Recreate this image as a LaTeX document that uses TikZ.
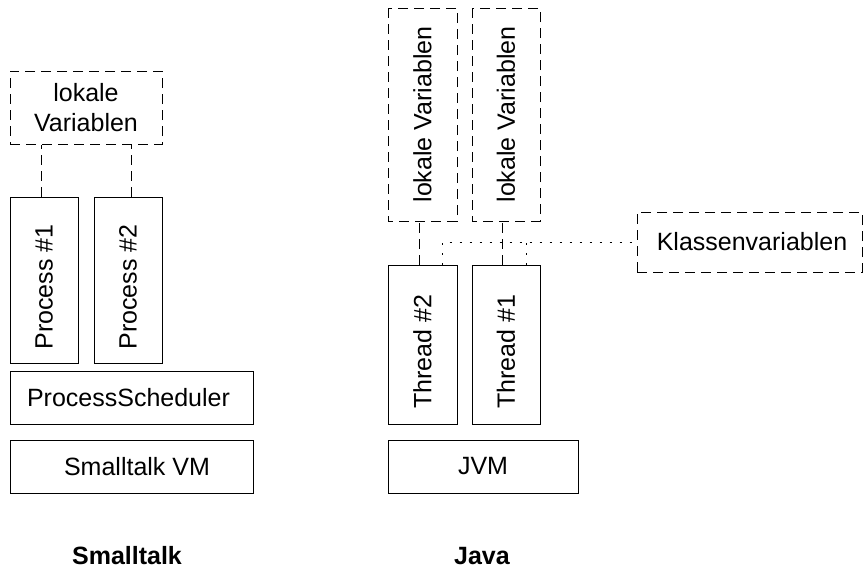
\documentclass[tikz,border=0pt]{standalone}
\usepackage{fontspec}
\setmainfont{Liberation Sans}
\begin{document}
\begin{tikzpicture}[x=1pt,y=-1pt,
  font=\fontsize{25}{30}\selectfont,
  solidbox/.style={draw=black, line width=1pt, inner sep=0pt, rectangle},
  dashbox/.style={draw=black, line width=1pt, inner sep=0pt, rectangle, dash pattern=on 10pt off 6pt},
  dashline/.style={draw=black, line width=1pt, dash pattern=on 10pt off 6pt},
  dotline/.style={draw=black, line width=1pt, dash pattern=on 2pt off 8pt},
  caption/.style={font=\fontsize{25}{30}\selectfont\bfseries}]
\useasboundingbox (0,0) rectangle (863,573);

% Smalltalk
\node[dashbox, minimum width=152, minimum height=73, align=center] (lv) at (86,107.5) {lokale\\Variablen};
\node[solidbox, rotate=90, minimum width=166, minimum height=68.5] (p1) at (44.25,280) {};
\node[rotate=90] at (44.25,287) {Process \#1};
\node[solidbox, rotate=90, minimum width=166, minimum height=68] (p2) at (128,280) {};
\node[rotate=90] at (128,287) {Process \#2};
\node[solidbox, minimum width=243, minimum height=53] (ps) at (131.5,397.5) {};
\node at (128.5,397.5) {ProcessScheduler};
\node[solidbox, minimum width=243, minimum height=53] (svm) at (131.5,466.5) {};
\node at (137,466.5) {Smalltalk VM};
\node[caption] (cst) at (127,556) {Smalltalk};

\draw[dashline] ([xshift=-3.25pt]p1.east) -- ([xshift=-3.25pt]p1.east |- lv.south);
\draw[dashline] ([xshift=3pt]p2.east) -- ([xshift=3pt]p2.east |- lv.south);

% Java
\node[dashbox, rotate=90, minimum width=213, minimum height=69] (jl1) at (422.5,114.5) {lokale Variablen};
\node[dashbox, rotate=90, minimum width=213, minimum height=68] (jl2) at (506,114.5) {lokale Variablen};
\node[solidbox, rotate=90, minimum width=159, minimum height=69] (t2) at (422.5,344.5) {};
\node[rotate=90] at (422.5,352) {Thread \#2};
\node[solidbox, rotate=90, minimum width=159, minimum height=68] (t1) at (506,344.5) {};
\node[rotate=90] at (506,352) {Thread \#1};
\node[solidbox, minimum width=190, minimum height=53] (jvm) at (483,466.5) {};
\node at (483,466.5) {JVM};
\node[dashbox, minimum width=225, minimum height=60] (kv) at (749.5,242) {};
\node at (752,242) {Klassenvariablen};
\node[caption] (cjava) at (482,556) {Java};

\draw[dashline] ([xshift=-3.5pt]t2.east) -- ([xshift=-3.5pt]t2.east |- jl1.west);
\draw[dashline] ([xshift=-4pt]t1.east) -- ([xshift=-4pt]t1.east |- jl2.west);

\coordinate (d1) at ([xshift=19.5pt]t2.east);
\coordinate (d2) at ([xshift=20pt]t1.east);
\draw[dotline] (d1) -- (d1 |- kv.west) -- (kv.west);
\draw[dotline] (d2) -- (d2 |- kv.west);
\end{tikzpicture}
\end{document}
